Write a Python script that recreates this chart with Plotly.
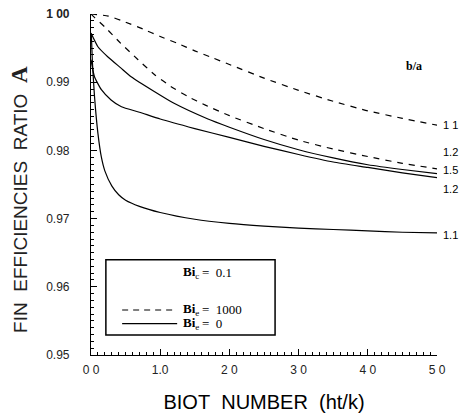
import plotly.graph_objects as go

# ---- data ----
x_dash_11 = [0.0, 0.25, 0.5, 0.75, 1.0, 1.25, 1.5, 1.75, 2.0, 2.5, 3.0, 3.5, 4.0, 4.5, 5.0]
y_dash_11 = [1.0, 0.9997, 0.9988, 0.9978, 0.9967, 0.9957, 0.9946, 0.9936, 0.9926, 0.9906, 0.9888, 0.9872, 0.9858, 0.9847, 0.9837]

x_dash_12 = [0.0, 0.05, 0.2, 0.43, 0.68, 0.92, 1.15, 1.4, 1.66, 2.0, 2.5, 3.0, 3.5, 4.0, 4.5, 5.0]
y_dash_12 = [1.0, 0.9995, 0.9981, 0.9957, 0.9933, 0.9911, 0.9894, 0.9879, 0.9866, 0.9851, 0.9832, 0.9815, 0.9802, 0.9791, 0.9781, 0.9773]

x_sol_15 = [0.0, 0.1, 0.245, 0.43, 0.58, 0.92, 1.2, 1.69, 2.0, 2.5, 3.0, 3.5, 4.0, 4.5, 5.0]
y_sol_15 = [0.9972, 0.9952, 0.9937, 0.9921, 0.9908, 0.9886, 0.9869, 0.9846, 0.9834, 0.9816, 0.9801, 0.9789, 0.9779, 0.9772, 0.9766]

x_sol_12 = [0.0, 0.05, 0.15, 0.29, 0.44, 0.7, 1.0, 1.5, 2.0, 2.5, 3.0, 3.5, 4.0, 4.5, 5.0]
y_sol_12 = [0.9933, 0.9908, 0.9889, 0.9874, 0.9864, 0.9856, 0.9846, 0.9832, 0.9819, 0.9806, 0.9794, 0.9783, 0.9775, 0.9767, 0.976]

x_sol_11 = [0.005, 0.02, 0.05, 0.1, 0.15, 0.2, 0.3, 0.4, 0.5, 0.7, 1.0, 1.5, 2.0, 2.5, 3.0, 3.5, 4.0, 4.5, 5.0]
y_sol_11 = [0.997, 0.993, 0.988, 0.9825, 0.979, 0.977, 0.9748, 0.9735, 0.9727, 0.9718, 0.9709, 0.9699, 0.9693, 0.9689, 0.9686, 0.9684, 0.9682, 0.968, 0.9679]

x_tick_vals = [0, 1, 2, 3, 4, 5]
x_tick_text = ["0 0", "1.0", "2 0", "3 0", "4 0", "5 0"]
y_tick_vals = [0.95, 0.96, 0.97, 0.98, 0.99, 1.00]
y_tick_text = ["0.95", "0.96", "0.97", "0.98", "0.99", "<b>1 00</b>"]

end_labels = ["1 1", "1.2", "1.5", "1.2", "1.1"]
end_label_y = [0.9837, 0.9797, 0.9771, 0.9743, 0.9676]

legend_symbols = ["<b>Bi</b><sub>c</sub>", "<b>Bi</b><sub>e</sub>", "<b>Bi</b><sub>e</sub>"]
legend_values = ["0.1", "1000", "0"]

# ---- figure ----
fig = go.Figure()
series = [
    (x_dash_11, y_dash_11, "6px,6px"),
    (x_dash_12, y_dash_12, "6px,6px"),
    (x_sol_15, y_sol_15, "solid"),
    (x_sol_12, y_sol_12, "solid"),
    (x_sol_11, y_sol_11, "solid"),
]
for xs, ys, dash in series:
    fig.add_trace(go.Scatter(x=xs, y=ys, mode="lines",
                             line=dict(color="black", width=1.2, dash=dash, shape="spline", smoothing=0.5),
                             showlegend=False, hoverinfo="skip"))

for txt, yv in zip(end_labels, end_label_y):
    fig.add_annotation(x=5.0, y=yv, xref="x", yref="y", text=txt, showarrow=False,
                       xanchor="left", xshift=4, font=dict(family="Liberation Sans", size=11, color="black"))

fig.add_annotation(x=0.962, y=0.874, xref="paper", yref="paper", text="<b>b/a</b>", showarrow=False,
                   font=dict(family="Liberation Serif", size=12, color="black"))

# y-axis title as rotated annotation (sits a bit below the plot centre in the reference)
fig.add_annotation(x=-0.205, y=0.455, xref="paper", yref="paper", textangle=-90, showarrow=False,
                   xanchor="center", yanchor="middle",
                   text="FIN&nbsp;&nbsp;EFFICIENCIES&nbsp;&nbsp;RATIO&nbsp;&nbsp;"
                        "<span style='font-family:Liberation Serif;font-size:23px'><b>A</b></span>",
                   font=dict(family="Liberation Sans", size=19, color="#222"))

# legend box (drawn manually)
fig.add_shape(type="rect", xref="paper", yref="paper", x0=0.043, x1=0.532, y0=0.059, y1=0.279,
              line=dict(color="black", width=1.5))
fig.add_shape(type="line", xref="paper", yref="paper", x0=0.09, x1=0.249, y0=0.132, y1=0.132,
              line=dict(color="black", width=1.2, dash="6px,5px"))
fig.add_shape(type="line", xref="paper", yref="paper", x0=0.09, x1=0.249, y0=0.092, y1=0.092,
              line=dict(color="black", width=1.2))
for sym, val, yy in zip(legend_symbols, legend_values, [0.241, 0.132, 0.092]):
    fig.add_annotation(x=0.263, y=yy, xref="paper", yref="paper", text=sym, showarrow=False,
                       xanchor="left", yanchor="middle", borderpad=0,
                       font=dict(family="Liberation Serif", size=13, color="black"))
    fig.add_annotation(x=0.318, y=yy, xref="paper", yref="paper", text="=&nbsp;&nbsp;" + val,
                       showarrow=False, xanchor="left", yanchor="middle", borderpad=0,
                       font=dict(family="Liberation Serif", size=13, color="black"))

axis_font = dict(family="Liberation Sans", size=12, color="#222")
fig.update_xaxes(range=[0, 5.0], tickvals=x_tick_vals, ticktext=x_tick_text,
                 ticks="inside", ticklen=6, tickwidth=1, tickcolor="black",
                 minor=dict(dtick=0.1, ticks="inside", ticklen=3, tickcolor="black", tickwidth=1),
                 showline=True, linecolor="black", linewidth=1.2, showgrid=False, zeroline=False,
                 tickfont=axis_font, ticklabelstandoff=3, automargin=False,
                 title=dict(text="BIOT&nbsp;&nbsp;NUMBER&nbsp;&nbsp;(ht/k)",
                            font=dict(family="Liberation Sans", size=20, color="black"), standoff=19))
fig.update_yaxes(range=[0.95, 1.0], tickvals=y_tick_vals, ticktext=y_tick_text,
                 ticks="inside", ticklen=6, tickwidth=1, tickcolor="black",
                 minor=dict(dtick=0.001, ticks="inside", ticklen=3, tickcolor="black", tickwidth=1),
                 showline=True, linecolor="black", linewidth=1.2, showgrid=False, zeroline=False,
                 tickfont=axis_font, ticklabelstandoff=18, automargin=False)

fig.update_layout(width=466, height=419, plot_bgcolor="white", paper_bgcolor="white",
                  margin=dict(l=91, r=29, t=14, b=64), showlegend=False)

fig.write_html("out.html", config={"displayModeBar": False},
               post_script="document.body.style.margin='0';")
